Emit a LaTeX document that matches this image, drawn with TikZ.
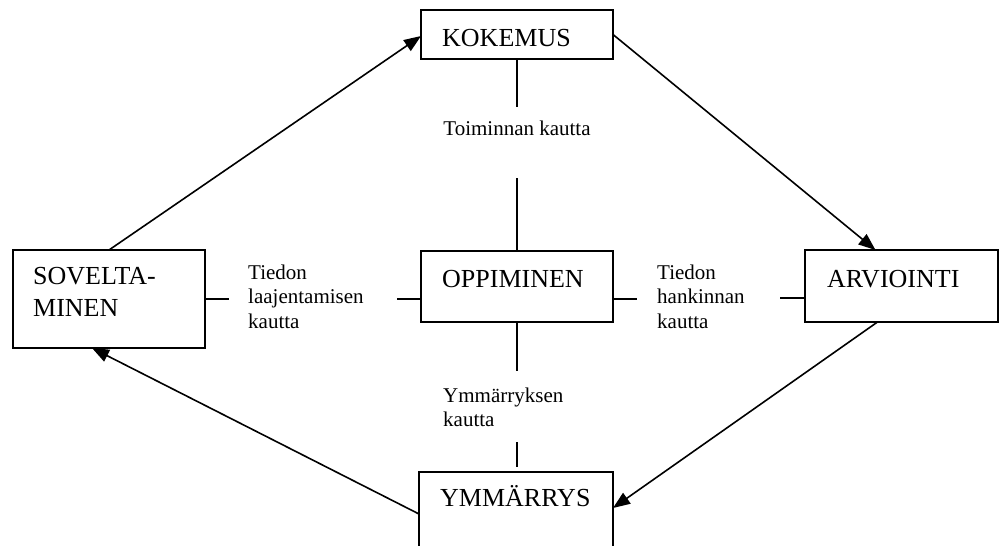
\documentclass[tikz,border=0pt]{standalone}
\usepackage{fontspec}
\setmainfont{Liberation Serif}
\usetikzlibrary{arrows.meta}
\begin{document}
\begin{tikzpicture}[x=1pt,y=-1pt,
  box/.style={draw, line width=1.7pt, inner sep=0pt, outer sep=0pt, anchor=north west},
  big/.style={font=\fontsize{26}{32}\selectfont, inner sep=0pt},
  small/.style={font=\fontsize{21}{24.5}\selectfont, inner sep=0pt, align=left},
  con/.style={line width=1.7pt},
  arr/.style={line width=1.6pt, -{Triangle[length=17pt,width=13pt]}}]
\fill[white] (0,0) rectangle (1002,546);
\useasboundingbox (0,0) rectangle (1002,546);
\clip (0,0) rectangle (1002,546);

% boxes
\node[box, minimum width=192pt, minimum height=49pt] (kok) at (421,10) {};
\node[big, anchor=base west] (kokT) at (442,46) {KOKEMUS};
\node[box, minimum width=192pt, minimum height=71pt] (opp) at (421,251) {};
\node[big, anchor=base west] (oppT) at (442,287) {OPPIMINEN};
\node[box, minimum width=192pt, minimum height=98pt] (sov) at (13,250) {};
\node[big, anchor=north west, align=left] (sovT) at (33,267.4) {SOVELTA-\\MINEN};
\node[box, minimum width=193pt, minimum height=72pt] (arv) at (805,250) {};
\node[big, anchor=base west] (arvT) at (827,287) {ARVIOINTI};
\node[box, minimum width=194pt, minimum height=100pt] (ymm) at (419,472) {};
\node[big, anchor=base west] (ymmT) at (440,506) {YMMÄRRYS};

% vertical connectors
\coordinate (t1) at (517,107);
\coordinate (t2) at (517,178);
\draw[con] (kok.south) -- (kok.south |- t1);
\draw[con] (opp.north |- t2) -- (opp.north);
\node[small, anchor=base] (tLab) at (517,135) {Toiminnan kautta};
\coordinate (b1) at (517,371);
\coordinate (b2) at (517,442);
\coordinate (b3) at (517,467);
\draw[con] (opp.south) -- (opp.south |- b1);
\draw[con] (opp.south |- b2) -- (opp.south |- b3);
\node[small, anchor=north west] (bLab) at (443,387.7) {Ymmärryksen\\kautta};

% horizontal connectors
\coordinate (oppL) at ([yshift=-12.5pt]opp.west);
\coordinate (oppR) at ([yshift=-12.5pt]opp.east);
\coordinate (arvL) at ([yshift=-12pt]arv.west);
\coordinate (l1) at (229,299);
\coordinate (l2) at (397,299);
\draw[con] (sov.east) -- (sov.east -| l1);
\draw[con] (oppL -| l2) -- (oppL);
\node[small, anchor=north west] (lLab) at (248,264.7) {Tiedon\\laajentamisen\\kautta};
\coordinate (r1) at (637,299);
\coordinate (r2) at (780,298);
\draw[con] (oppR) -- (oppR -| r1);
\draw[con] (arvL -| r2) -- (arvL);
\node[small, anchor=north west] (rLab) at (657,264.7) {Tiedon\\hankinnan\\kautta};

% cycle arrows
\draw[arr] (sov.north) -- ([yshift=-1.5pt]kok.west);
\draw[arr] (kok.east) -- ([xshift=-26pt]arv.north);
\draw[arr] ([xshift=-24pt]arv.south) -- ([yshift=-36pt]ymm.north east);
\draw[arr] ([yshift=-42pt]ymm.north west) -- ([xshift=-17pt]sov.south);
\end{tikzpicture}
\end{document}
